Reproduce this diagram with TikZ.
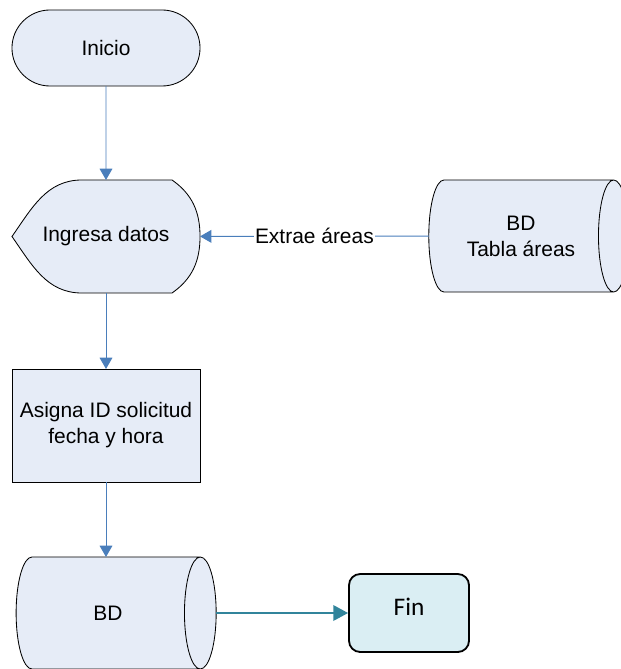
\documentclass[tikz,border=0pt]{standalone}
\usepackage{fontspec}
\setmainfont{Liberation Sans}
\newfontfamily\finfont{Carlito}
\usepackage{tikz}
\usetikzlibrary{calc,positioning,shapes.geometric,shapes.misc,arrows.meta,backgrounds}
\definecolor{boxfill}{RGB}{230,236,247}
\definecolor{flowblue}{RGB}{74,126,187}
\definecolor{endfill}{RGB}{218,238,243}
\definecolor{endteal}{RGB}{49,132,155}

\begin{document}
\begin{tikzpicture}[x = 0.025cm, y = -0.025cm]
\tikzstyle{shp}=[draw, fill = boxfill, line width = 0.6pt, inner sep = 0 pt, outer sep = 0 pt, align = center, font = \fontsize{14.9}{18.4}\selectfont]
\tikzstyle{dbase}=[shp, cylinder, minimum width = 2.8cm, minimum height = 5cm]
\tikzstyle{flow}=[draw = flowblue, line width = 0.7pt, -{Triangle[length = 8pt, width = 9pt]}]
\tikzstyle{lbl}=[midway, inner sep = 1 pt, fill = white, font = \fontsize{14.9}{18.4}\selectfont]

\useasboundingbox (0,0) rectangle (620,669);

\node[shp, rounded rectangle, minimum width = 4.7cm, minimum height = 1.9cm] (inicio) at (106,48) {Inicio};
\node[shp, draw = none, fill = none, minimum width = 4.7cm, minimum height = 2.825cm] (ingresa) at (106,236.5) {Ingresa datos};
\node[dbase, aspect = 0.75] (tabla) at (521,236) {BD\\Tabla áreas};
\node[shp, minimum width = 4.7cm, minimum height = 2.825cm] (asigna) at (106,425.5) {Asigna ID solicitud\\fecha y hora};
\node[dbase, aspect = 2.2] (bd) at (108,613) {BD};
\node[draw, fill = endfill, line width = 1.3pt, rounded corners = 8pt, inner sep = 0 pt, minimum width = 3cm, minimum height = 1.95cm, text depth = 9pt, font = \finfont\fontsize{18}{20}\selectfont] (fin) at (409,613) {Fin};

% display shape behind the text
\begin{pgfonlayer}{background}
\filldraw[fill = boxfill, line width = 0.6pt] ($(ingresa.north west)+(70,0)$) -- ($(ingresa.north east)+(-28,0)$) to[out = -35, in = 90] (ingresa.east) to[out = -90, in = 35] ($(ingresa.south east)+(-28,0)$) -- ($(ingresa.south west)+(70,0)$) to[out = 180, in = -55] (ingresa.west) to[out = 55, in = 180] cycle;
\end{pgfonlayer}

\draw[flow] (inicio) -- (ingresa);
\draw[flow] (tabla) -- node[lbl] {Extrae áreas} (ingresa);
\draw[flow] (ingresa) -- (asigna);
\draw[flow] (asigna.south) -- (asigna.south |- bd.north);
\draw[draw = endteal, line width = 1.4pt, -{Triangle[length = 10.5pt, width = 11pt]}] (bd.east) -- (bd.east -| fin.west);
\end{tikzpicture}
\end{document}
